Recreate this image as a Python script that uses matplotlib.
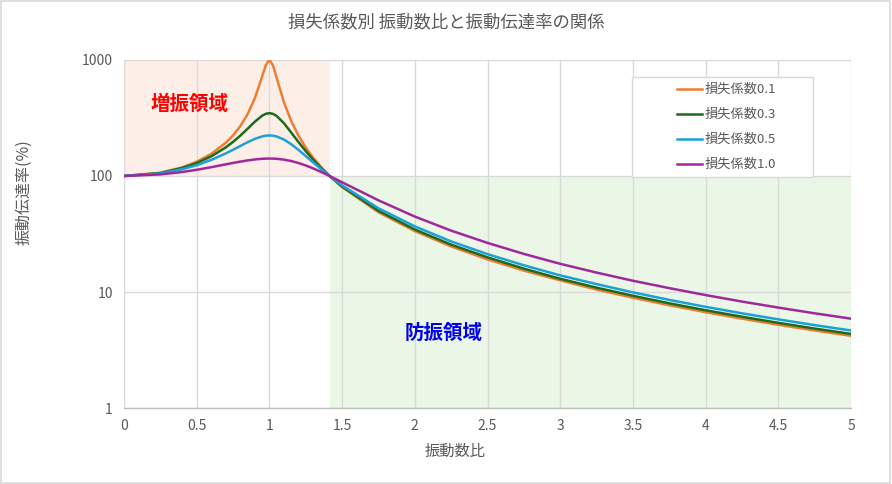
import matplotlib.pyplot as plt
import matplotlib.patches as patches

plt.rcParams['font.family'] = ['Noto Sans CJK JP', 'DejaVu Sans']

# 振動数比 (x) と各損失係数の振動伝達率 (%)
ratio = [0, 0.25, 0.4, 0.5, 0.6, 0.7, 0.75, 0.8, 0.85, 0.9, 0.95, 0.975, 1.0,
         1.025, 1.05, 1.1, 1.15, 1.2, 1.25, 1.3, 1.35, 1.414, 1.5, 1.75, 2.0,
         2.25, 2.5, 2.75, 3.0, 3.25, 3.5, 3.75, 4.0, 4.25, 4.5, 4.75, 5.0]
eta_01 = [100, 106.6, 118.8, 132.8, 155.1, 193.4, 223.9, 269.0, 340.7, 468.1, 719.6, 901, 1005,
          897, 701.8, 432.1, 297.6, 222.7, 175.9, 144.1, 121.3, 100, 80.1, 48.7, 33.5,
          24.7, 19.1, 15.3, 12.6, 10.5, 8.93, 7.69, 6.70, 5.89, 5.22, 4.66, 4.19]
eta_03 = [100, 106.1, 117.1, 129.2, 147.7, 176.4, 196.8, 222.8, 255.5, 294.0, 331.0, 343.4, 348.0,
          343.2, 329.3, 285.1, 237.0, 196.0, 163.8, 138.8, 119.3, 100, 81.2, 50.1, 34.6,
          25.6, 19.9, 15.9, 13.0, 10.9, 9.28, 7.99, 6.96, 6.12, 5.42, 4.84, 4.35]
eta_05 = [100, 105.2, 114.4, 124.0, 137.7, 156.5, 168.3, 181.5, 195.5, 209.0, 219.5, 222.5, 223.6,
          222.5, 219.1, 206.2, 187.9, 167.9, 148.6, 131.2, 116.2, 100, 83.0, 52.7, 36.8,
          27.3, 21.2, 17.0, 13.9, 11.7, 9.93, 8.55, 7.45, 6.55, 5.81, 5.18, 4.66]
eta_10 = [100, 103.2, 108.3, 113.1, 119.1, 126.0, 129.6, 133.1, 136.3, 138.9, 140.8, 141.2, 141.4,
          141.2, 140.7, 138.4, 134.6, 129.4, 123.3, 116.4, 109.2, 100, 88.3, 61.7, 44.7,
          33.8, 26.5, 21.3, 17.5, 14.7, 12.5, 10.8, 9.41, 8.27, 7.34, 6.55, 5.89]

labels = ['損失係数0.1', '損失係数0.3', '損失係数0.5', '損失係数1.0']
colors = ['#ED7D31', '#1E6B1E', '#1CA0D8', '#A0289C']
x_ticks = [0, 0.5, 1, 1.5, 2, 2.5, 3, 3.5, 4, 4.5, 5]
x_ticklabels = ['0', '0.5', '1', '1.5', '2', '2.5', '3', '3.5', '4', '4.5', '5']
y_ticks = [1, 10, 100, 1000]
boundary = 1.414

fig = plt.figure(figsize=(8.92, 4.84), dpi=100)
fig.patches.append(patches.Rectangle((0.001, 0.002), 0.997, 0.995, transform=fig.transFigure,
                                     fill=False, edgecolor='#D9D9D9', linewidth=1.2))
ax = fig.add_axes([124 / 892, 1 - 408 / 484, (851 - 124) / 892, (408 - 60) / 484])

ax.set_yscale('log')
ax.set_xlim(0, 5)
ax.set_ylim(1, 1000)

# 領域の塗りつぶし
ax.fill_between([0, boundary], 100, 1000, color='#FDEFE7', zorder=0, linewidth=0)
ax.fill_between([boundary, 5], 1, 100, color='#EAF6E6', zorder=0, linewidth=0)

ax.set_xticks(x_ticks)
ax.set_xticklabels(x_ticklabels)
ax.set_yticks(y_ticks)
ax.set_yticklabels(['1', '10', '100', '1000'])
ax.minorticks_off()
ax.grid(True, color='#D9D9D9', linewidth=1, zorder=1)
ax.set_axisbelow(False)
ax.tick_params(length=0, colors='#595959', labelsize=10, pad=8)

for s in ['top', 'right', 'left']:
    ax.spines[s].set_visible(False)
ax.spines['bottom'].set_color('#BFBFBF')
ax.spines['bottom'].set_linewidth(1)

for ys, lab, c in zip([eta_01, eta_03, eta_05, eta_10], labels, colors):
    ax.plot(ratio, ys, color=c, linewidth=1.8, label=lab, zorder=3)

ax.text(0.18, 375, '増振領域', color='#FF0000', fontsize=14, fontweight='bold', zorder=4)
ax.text(1.93, 3.95, '防振領域', color='#0000EE', fontsize=14, fontweight='bold', zorder=4)

# 凡例 (Excel風の配置)
ax.add_patch(patches.Rectangle((0.6988, 0.6638), 0.2489, 0.2873, transform=ax.transAxes,
                               facecolor='white', edgecolor='#D9D9D9', linewidth=1, zorder=5))
for i, (lab, c) in enumerate(zip(labels, colors)):
    yy = 0.9167 - i * 0.0718
    ax.plot([0.7607, 0.7950], [yy, yy], transform=ax.transAxes, color=c, linewidth=1.8,
            zorder=6, clip_on=False)
    ax.text(0.7990, yy, lab, transform=ax.transAxes, va='center', ha='left',
            fontsize=9.5, color='#595959', zorder=6)

fig.text(0.5, 1 - 22 / 484, '損失係数別 振動数比と振動伝達率の関係', ha='center', va='center',
         fontsize=12.5, color='#595959')
fig.text(455 / 892, 1 - 451 / 484, '振動数比', ha='center', va='center',
         fontsize=11, color='#595959')
fig.text(24 / 892, 1 - 192 / 484, '振動伝達率(%)', ha='center', va='center', rotation=90,
         fontsize=11.5, color='#595959')

fig.savefig('out.png', dpi=100)
